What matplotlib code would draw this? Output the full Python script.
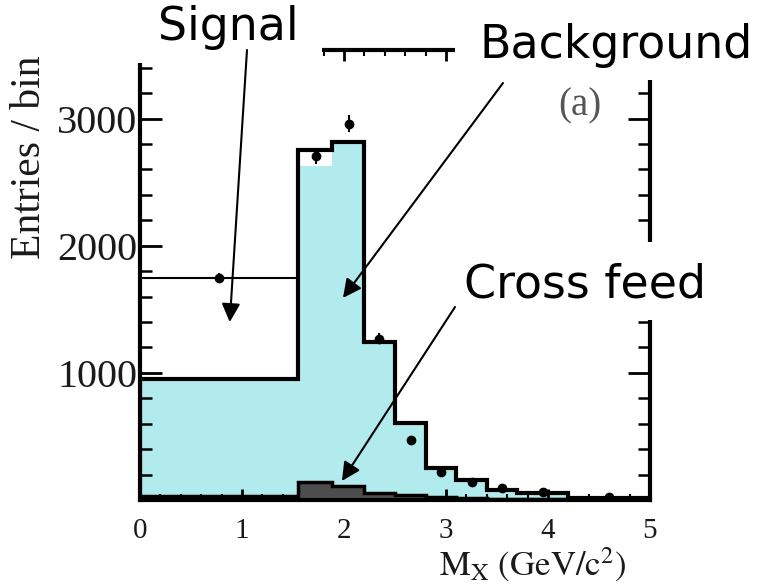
import matplotlib
matplotlib.use("Agg")
import matplotlib.pyplot as plt
from matplotlib.patches import Rectangle
from matplotlib.ticker import MultipleLocator

CYAN, DARK, INK = "#b2ebed", "#4d4d4d", "#1a1a1a"

# bin edges in M_X (GeV/c^2) and per-bin contents
edges = [0, 1.55, 1.88, 2.2, 2.5, 2.8, 3.1, 3.4, 3.7, 4.2, 5.0]
total_fit = [950, 2755, 2820, 1245, 605, 250, 158, 80, 55, 15]
background = [950, 2630, 2820, 1245, 605, 250, 158, 78, 52, 12]
cross_feed = [35, 145, 110, 55, 40, 25, 15, 8, 5, 3]

# data points
data_x = [0.775, 1.73, 2.05, 2.34, 2.66, 2.95, 3.25, 3.55, 3.95, 4.6]
data_y = [1750, 2705, 2960, 1270, 475, 220, 142, 92, 63, 24]
data_err = [35, 60, 65, 45, 30, 18, 14, 12, 10, 8]
data_xerr = [0.775, 0, 0, 0, 0, 0, 0, 0, 0, 0]

plt.rcParams["mathtext.fontset"] = "stix"
SERIF = "Liberation Serif"

fig = plt.figure(figsize=(7.61, 5.86), dpi=100)
W, H = 761, 586
ax = fig.add_axes([140 / W, 1 - 500 / H, 510 / W, 450 / H])

ax.stairs(background, edges, fill=True, color=CYAN, lw=0, zorder=1)
ax.stairs(cross_feed, edges, fill=True, color=DARK, lw=0, zorder=2)
ax.stairs(cross_feed, edges, fill=False, color="black", lw=2.5, zorder=3)
ax.stairs(total_fit, edges, fill=False, color="black", lw=3, zorder=4)
ax.errorbar(data_x, data_y, yerr=data_err, xerr=data_xerr, fmt="o", ms=6,
            color="black", elinewidth=1.5, capsize=0, zorder=5)

ax.set_xlim(0, 5)
ax.set_ylim(0, 3540)
ax.set_yticks([1000, 2000, 3000])
ax.yaxis.set_minor_locator(MultipleLocator(200))
ax.set_xticks([0, 1, 2, 3, 4, 5])
ax.xaxis.set_minor_locator(MultipleLocator(0.2))
ax.tick_params(direction="in", top=True, right=True, which="both", color="black")
ax.tick_params(axis="y", which="major", length=16, width=2, pad=2)
ax.tick_params(axis="y", which="minor", length=8.5, width=1.8)
ax.tick_params(axis="x", which="major", length=8, width=2, pad=13)
ax.tick_params(axis="x", which="minor", length=4.5, width=1.5)
for lab in ax.get_yticklabels():
    lab.set_fontfamily(SERIF); lab.set_fontsize(29); lab.set_color(INK)
for lab in ax.get_xticklabels():
    lab.set_fontfamily(SERIF); lab.set_fontsize(21); lab.set_color(INK)
for s in ax.spines.values():
    s.set_linewidth(3)

fig.text(30 / W, 1 - 157 / H, "Entries / bin", rotation=90, ha="center",
         va="center", family=SERIF, fontsize=30, color=INK)
fig.text(533 / W, 1 - 565 / H, r"$\mathrm{M_X\ (GeV/c^2)}$", ha="center",
         va="center", fontsize=25, color=INK)
ax.text((580 - 140) / 510, (500 - 106) / 450, "(a)", transform=ax.transAxes,
        ha="center", va="center", family=SERIF, fontsize=28, color="#555555")

# white label boxes that sit over the frame
for x0, y0, x1, y1 in [(120, 0, 322, 63), (455, 0, W, 80), (450, 242, W, 320)]:
    ax.add_patch(Rectangle((x0 / W, 1 - y1 / H), (x1 - x0) / W, (y1 - y0) / H,
                           transform=fig.transFigure, facecolor="white",
                           edgecolor="none", clip_on=False, zorder=10))

labels = [("Signal", 228, 27, (0.88, 1400), 247, 50),
          ("Background", 616, 45, (1.99, 1590), 503, 83),
          ("Cross feed", 585, 285, (1.98, 150), 455, 307)]
for txt, tx, ty, tip, ax0, ay0 in labels:
    ax.text(tx / W, 1 - ty / H, txt, transform=fig.transFigure, ha="center",
            va="center", family="DejaVu Sans", fontsize=33, color="black",
            zorder=12)
    ax.annotate("", xy=tip, xycoords="data", xytext=(ax0 / W, 1 - ay0 / H),
                textcoords="figure fraction",
                arrowprops=dict(arrowstyle="-|>", lw=1.5, color="black",
                                mutation_scale=28, shrinkA=0, shrinkB=0),
                annotation_clip=False, zorder=11)

fig.savefig("out.png", dpi=100)
